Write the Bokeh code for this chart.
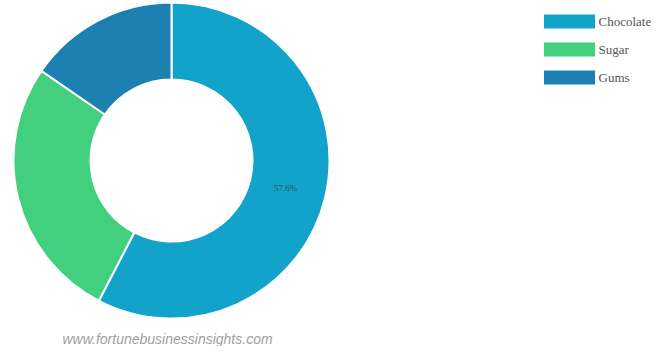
import math
from bokeh.plotting import figure
from bokeh.models import Range1d, ColumnDataSource
from bokeh.core.properties import value
from bokeh.embed import file_html
from bokeh.resources import INLINE

categories = ["Chocolate", "Sugar", "Gums"]
shares = [57.6, 27.0, 15.4]
colors = ["#12a3cb", "#42d07f", "#1c81b1"]
label_text = "57.6%"
watermark = "www.fortunebusinessinsights.com"

W, H = 651, 346
p = figure(width=W, height=H, output_backend="svg", toolbar_location=None,
           x_range=Range1d(0, W), y_range=Range1d(0, H), min_border=0)
p.axis.visible = False
p.grid.visible = False
p.outline_line_color = None
p.background_fill_color = "white"

cx, cy = 171, 186
r_out, r_in = 158, 81

total = sum(shares)
starts, ends = [], []
acc = 0.0
for s in shares:
    starts.append(math.pi / 2 - acc / total * 2 * math.pi)
    acc += s
    ends.append(math.pi / 2 - acc / total * 2 * math.pi)

src = ColumnDataSource(dict(start=starts, end=ends, color=colors, cat=categories))
p.annular_wedge(x=cx, y=cy, inner_radius=r_in, outer_radius=r_out,
                start_angle="start", end_angle="end", direction="clock",
                fill_color="color", line_color="white", line_width=2, source=src)

# label on first slice
mid = (starts[0] + ends[0]) / 2
rm = (r_in + r_out) / 2 - 2
p.text(x=[cx + rm * math.cos(mid)], y=[cy + rm * math.sin(mid)], text=[label_text],
       text_font=value("Liberation Serif"), text_font_size="9px", text_color="#3d4d5a",
       text_align="center", text_baseline="middle")

# legend
ly0 = 325
dy = 28
lys = [ly0 - i * dy for i in range(len(categories))]
p.rect(x=[569] * len(categories), y=lys, width=51, height=14, fill_color=colors, line_color=None)
p.text(x=[598] * len(categories), y=lys, text=categories,
       text_font=value("Liberation Serif"), text_font_size="13px", text_color="#555555",
       text_align="left", text_baseline="middle")

# watermark
p.text(x=[62], y=[8], text=[watermark], text_font=value("Liberation Sans"),
       text_font_size="14px", text_font_style="italic", text_color="#a0a0a0",
       text_align="left", text_baseline="middle")

open("out.html", "w").write(file_html(p, INLINE))
